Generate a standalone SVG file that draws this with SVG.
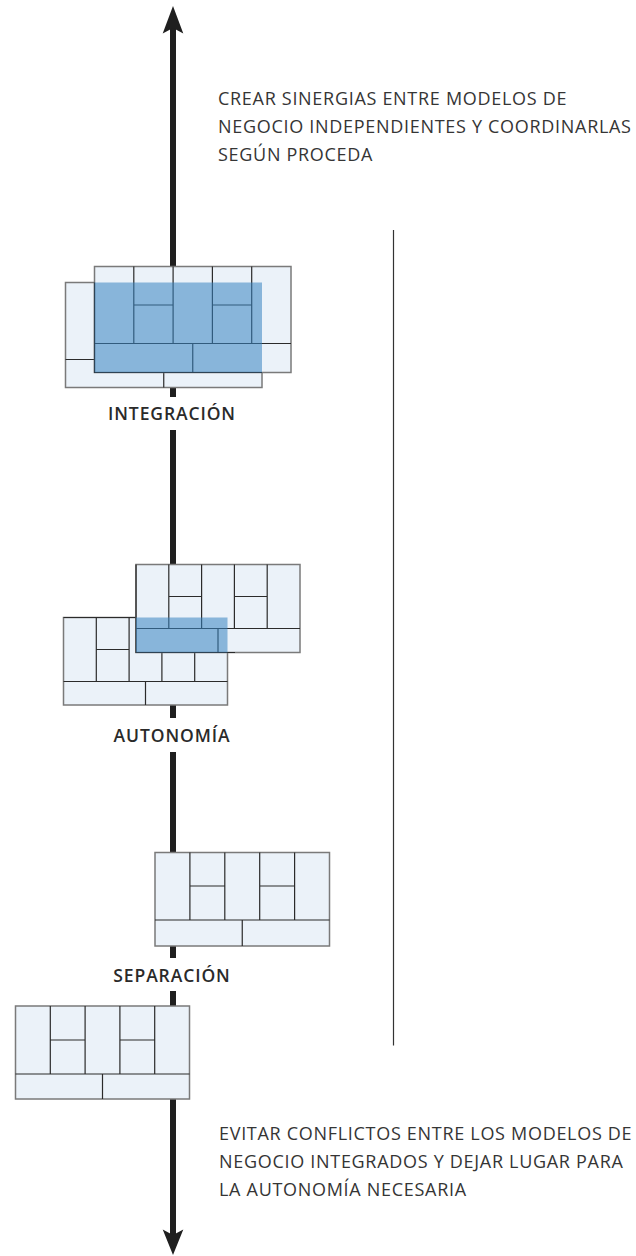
<svg xmlns="http://www.w3.org/2000/svg" width="636" height="1256" viewBox="0 0 636 1256">
<style>
.bg{fill:#ffffff}
.cv{fill:#ebf2f9;stroke:#7a7a7a;stroke-width:1.5}
.ln{stroke:#2b2b2b;stroke-width:1.2;fill:none}
.ov{fill:#3783c1;fill-opacity:0.55}
.shaft{stroke:#1f1f1f;stroke-width:6;fill:none}
.head{fill:#1f1f1f}
.rule{stroke:#333333;stroke-width:1.2}
.note{font-family:"Open Sans","Noto Sans",sans-serif;font-size:18px;letter-spacing:0.7px;fill:#353535}
.lbl{font-family:"Open Sans","Noto Sans",sans-serif;font-size:17.5px;font-weight:600;letter-spacing:0.9px;fill:#2a2a2a;text-anchor:middle}
</style>
<rect class="bg" x="0" y="0" width="636" height="1256"/>

<g id="connectors">
  <line class="shaft" x1="173" y1="27" x2="173" y2="397"/>
  <line class="shaft" x1="173" y1="430" x2="173" y2="718"/>
  <line class="shaft" x1="173" y1="752" x2="173" y2="958"/>
  <line class="shaft" x1="173" y1="991" x2="173" y2="1236"/>
  <polygon class="head" points="173,6 183.3,33.5 173,28 162.7,33.5"/>
  <polygon class="head" points="173,1255 183.3,1229.5 173,1235 162.7,1229.5"/>
  <line class="rule" x1="393.5" y1="230" x2="393.5" y2="1045.5"/>
</g>

<g id="note-top">
  <text class="note" x="218" y="105">CREAR SINERGIAS ENTRE MODELOS DE</text>
  <text class="note" x="218" y="133">NEGOCIO INDEPENDIENTES Y COORDINARLAS</text>
  <text class="note" x="218" y="161">SEGÚN PROCEDA</text>
</g>

<g id="integracion">
  <g id="integracion-left">
    <rect class="cv" x="65.5" y="282.5" width="196.5" height="105"/>
    <path class="ln" d="M65.5,359.5H262 M104.8,282.5V359.5 M144.1,282.5V359.5 M183.4,282.5V359.5 M222.7,282.5V359.5 M104.8,321H144.1 M183.4,321H222.7 M163.75,359.5V387.5"/>
  </g>
  <g id="integracion-right">
    <rect class="cv" x="94.5" y="266.5" width="196.5" height="106"/>
    <path class="ln" d="M94.5,343.5H291 M133.8,266.5V343.5 M173.1,266.5V343.5 M212.4,266.5V343.5 M251.7,266.5V343.5 M133.8,305H173.1 M212.4,305H251.7 M192.75,343.5V372.5 M94.5,282.5V372.5H262"/>
  </g>
  <rect class="ov" x="94.5" y="282.5" width="167.5" height="90"/>
  <text class="lbl" x="172" y="420">INTEGRACIÓN</text>
</g>

<g id="autonomia">
  <g id="autonomia-left">
    <rect class="cv" x="63.5" y="617.5" width="164" height="87.5"/>
    <path class="ln" d="M63.5,681.5H227.5 M96.3,617.5V681.5 M129.1,617.5V681.5 M161.9,617.5V681.5 M194.7,617.5V681.5 M96.3,649.5H129.1 M161.9,649.5H194.7 M145.5,681.5V705 M63.5,617.5H136"/>
  </g>
  <g id="autonomia-right">
    <rect class="cv" x="136" y="564.5" width="164" height="88"/>
    <path class="ln" d="M136,628.5H300 M168.8,564.5V628.5 M201.6,564.5V628.5 M234.4,564.5V628.5 M267.2,564.5V628.5 M168.8,596.5H201.6 M234.4,596.5H267.2 M218,628.5V652.5 M136,564.5V652.5H235"/>
  </g>
  <rect class="ov" x="136" y="617.5" width="91.5" height="35"/>
  <text class="lbl" x="172" y="742">AUTONOMÍA</text>
</g>

<g id="separacion">
  <rect class="cv" x="155" y="852.5" width="174.5" height="93.5"/>
  <path class="ln" d="M155,920H329.5 M189.9,852.5V920 M224.8,852.5V920 M259.7,852.5V920 M294.6,852.5V920 M189.9,886H224.8 M259.7,886H294.6 M242.25,920V946"/>
  <text class="lbl" x="172" y="982">SEPARACIÓN</text>
</g>

<g id="canvas-bottom">
  <rect class="cv" x="15.5" y="1006" width="174" height="93"/>
  <path class="ln" d="M15.5,1074H189.5 M50.3,1006V1074 M85.1,1006V1074 M119.9,1006V1074 M154.7,1006V1074 M50.3,1040H85.1 M119.9,1040H154.7 M102.5,1074V1099"/>
</g>

<g id="note-bottom">
  <text class="note" x="219" y="1140">EVITAR CONFLICTOS ENTRE LOS MODELOS DE</text>
  <text class="note" x="219" y="1168">NEGOCIO INTEGRADOS Y DEJAR LUGAR PARA</text>
  <text class="note" x="219" y="1196">LA AUTONOMÍA NECESARIA</text>
</g>
</svg>
